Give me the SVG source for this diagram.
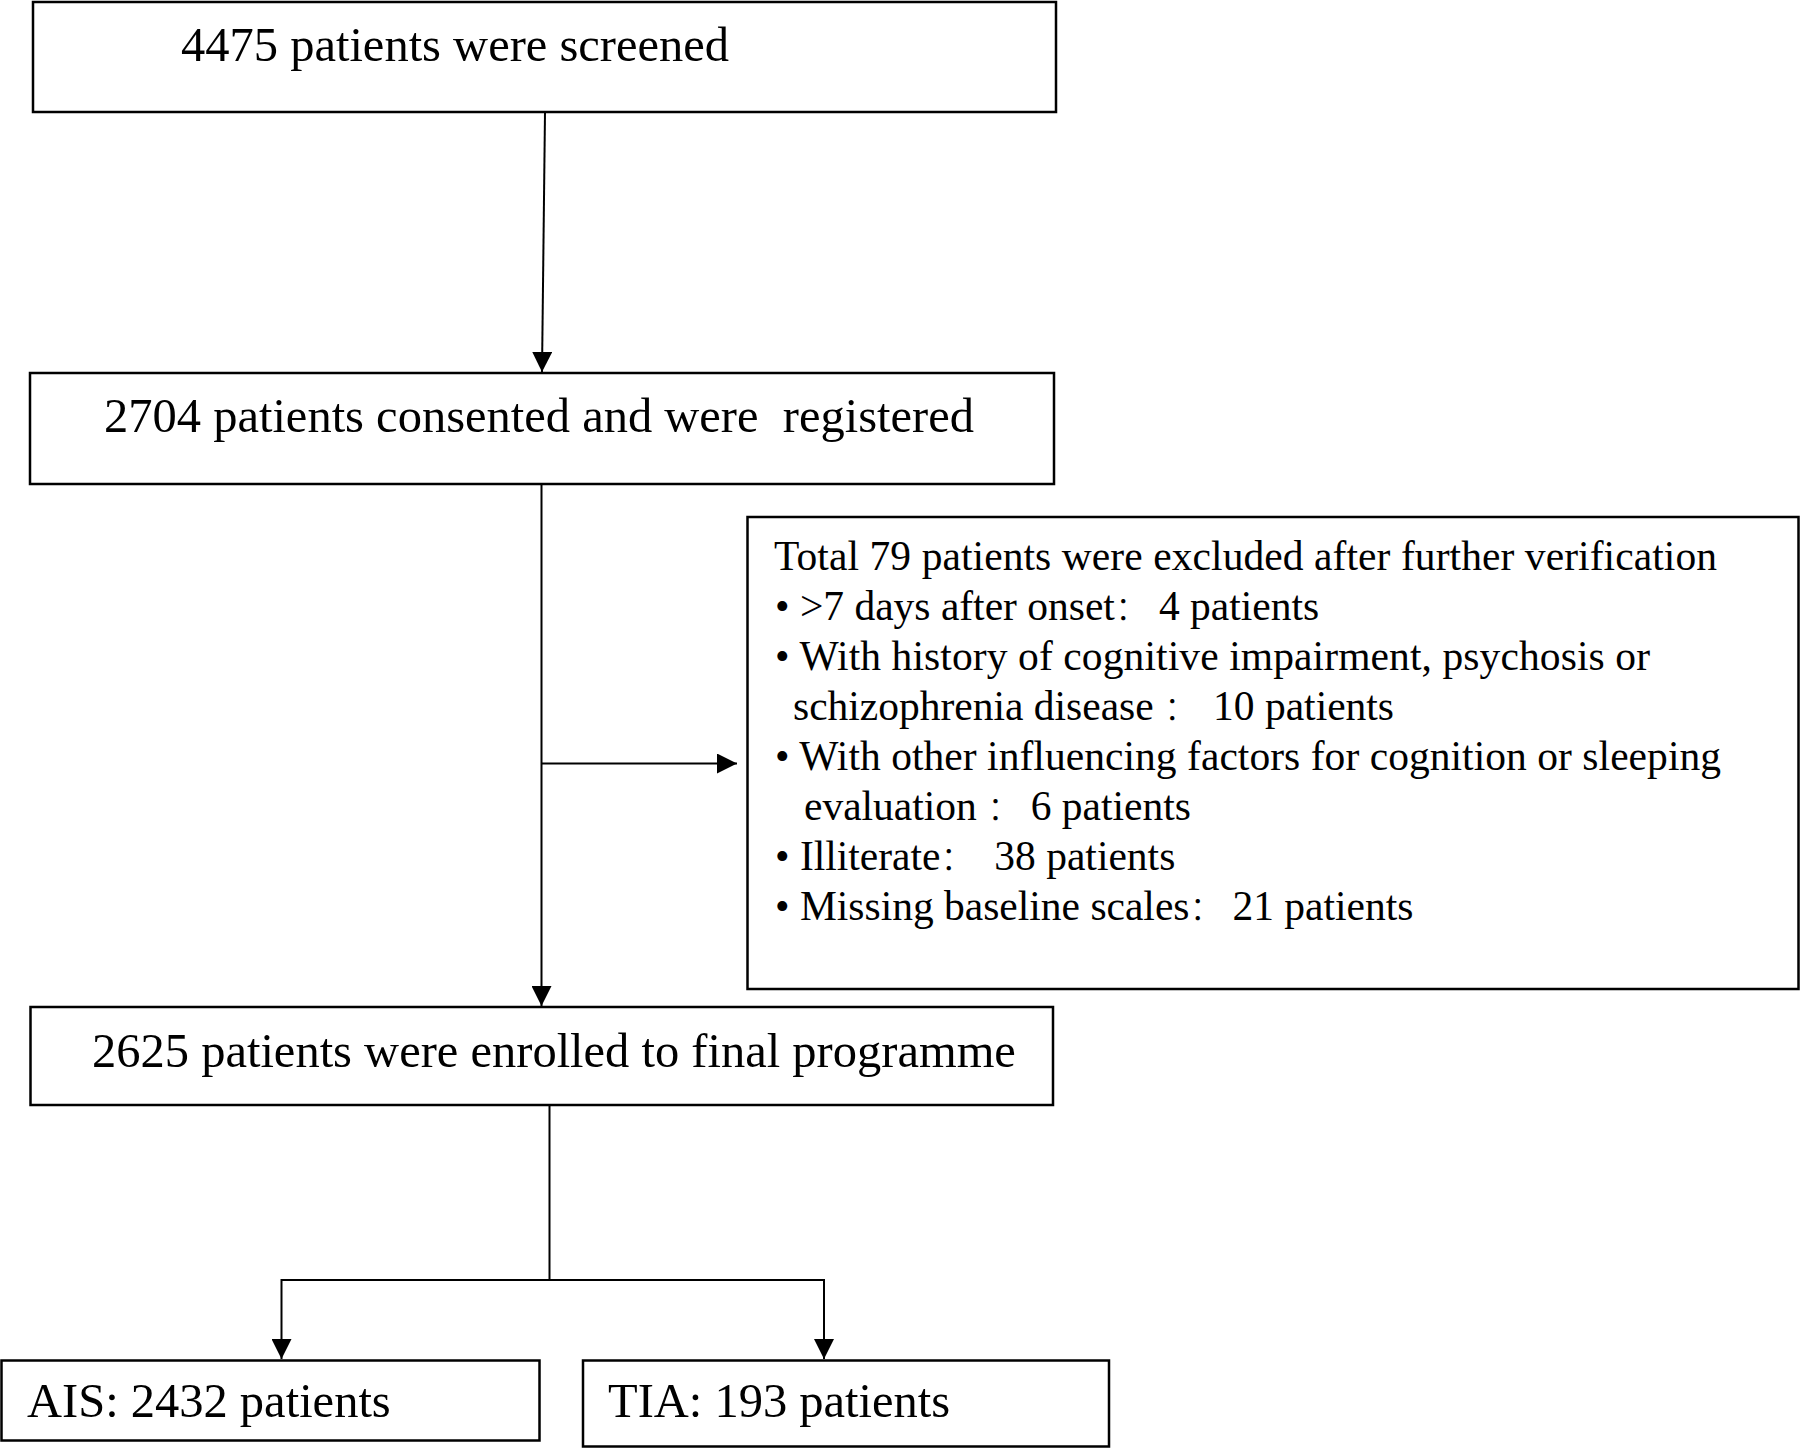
<svg xmlns="http://www.w3.org/2000/svg" width="1800" height="1449" viewBox="0 0 1800 1449">
<style>
.box{fill:#fff;stroke:#000;stroke-width:2.5}
.t{font-family:"Liberation Serif","Times New Roman","Noto Sans CJK SC",serif;font-size:48.5px;fill:#000;white-space:pre}
.s{font-family:"Liberation Serif","Times New Roman","Noto Sans CJK SC",serif;font-size:41.5px;fill:#000;white-space:pre}
.c{font-family:"Noto Sans CJK SC",sans-serif;font-weight:300;font-size:33px}
.ln{fill:none;stroke:#000;stroke-width:2}
</style>
<defs>
<marker id="ah" markerUnits="userSpaceOnUse" markerWidth="20" markerHeight="20" refX="20" refY="10" orient="auto">
<path d="M0,0 L20,10 L0,20 z" fill="#000"/>
</marker>
</defs>
<rect width="1800" height="1449" fill="#fff"/>
<g id="connectors">
<line class="ln" x1="545" y1="112" x2="542" y2="372" stroke-width="1.6" marker-end="url(#ah)"/>
<line class="ln" x1="541.5" y1="484" x2="541.5" y2="1006" marker-end="url(#ah)"/>
<line class="ln" x1="541.5" y1="763.5" x2="737" y2="763.5" marker-end="url(#ah)"/>
<line class="ln" x1="549.5" y1="1105" x2="549.5" y2="1280"/>
<line class="ln" x1="281.5" y1="1280" x2="824" y2="1280"/>
<line class="ln" x1="281.5" y1="1279" x2="281.5" y2="1359" marker-end="url(#ah)"/>
<line class="ln" x1="824" y1="1279" x2="824" y2="1359" marker-end="url(#ah)"/>
</g>
<g id="screened">
<rect class="box" x="33" y="2" width="1023" height="110"/>
<text class="t" x="181" y="61">4475 patients were screened</text>
</g>
<g id="registered">
<rect class="box" x="30" y="373" width="1024" height="111"/>
<text class="t" x="104" y="432">2704 patients consented and were  registered</text>
</g>
<g id="excluded">
<rect class="box" x="747.5" y="517" width="1051" height="472"/>
<text class="s" x="774" y="570" textLength="943" lengthAdjust="spacing">Total 79 patients were excluded after further verification</text>
<text class="s" x="775" y="620">• &gt;7 days after onset<tspan class="c">：</tspan><tspan dx="11">4 patients</tspan></text>
<text class="s" x="775" y="670" textLength="875" lengthAdjust="spacing">• With history of cognitive impairment, psychosis or</text>
<text class="s" x="793" y="720">schizophrenia disease <tspan class="c">：</tspan><tspan dx="16">10 patients</tspan></text>
<text class="s" x="804" y="820">evaluation <tspan class="c">：</tspan><tspan dx="10.5">6 patients</tspan></text>
<text class="s" x="775" y="770" textLength="946" lengthAdjust="spacing">• With other influencing factors for cognition or sleeping</text>
<text class="s" x="775" y="870">• Illiterate<tspan class="c">：</tspan><tspan dx="10.5"> 38 patients</tspan></text>
<text class="s" x="775" y="920">• Missing baseline scales<tspan class="c">：</tspan><tspan dx="10">21 patients</tspan></text>
</g>
<g id="enrolled">
<rect class="box" x="30.5" y="1007" width="1022.5" height="98"/>
<text class="t" x="92" y="1067">2625 patients were enrolled to final programme</text>
</g>
<g id="ais">
<rect class="box" x="1.5" y="1360.5" width="538" height="80"/>
<text class="t" x="27" y="1417">AIS: 2432 patients</text>
</g>
<g id="tia">
<rect class="box" x="583" y="1360.5" width="526" height="86"/>
<text class="t" x="608" y="1417">TIA: 193 patients</text>
</g>
</svg>
